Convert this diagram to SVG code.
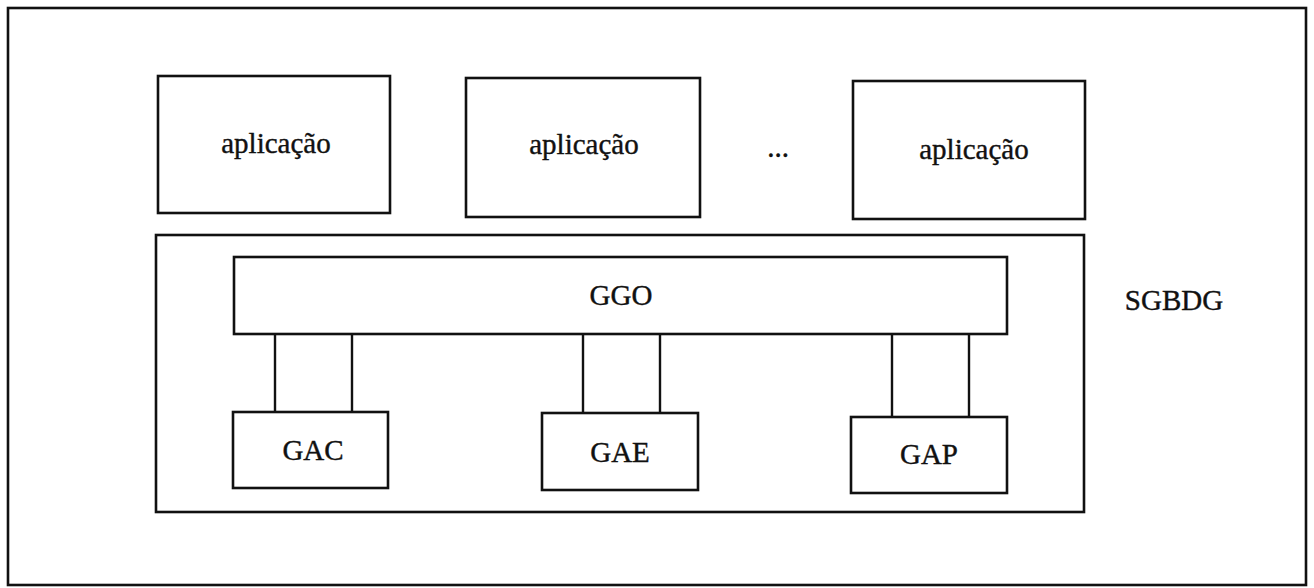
<svg xmlns="http://www.w3.org/2000/svg" width="1314" height="588" viewBox="0 0 1314 588">
<style>
rect{fill:#fff;stroke:#111;stroke-width:2.6}
.c line{stroke:#111;stroke-width:2.4}
text{font-family:"Liberation Serif","Times New Roman",serif;font-size:29px;fill:#111;stroke:#111;stroke-width:0.4;text-anchor:middle}
</style>
<rect x="0" y="0" width="1314" height="588" style="stroke:none"/>
<g id="frame"><rect x="8" y="8" width="1298" height="577"/></g>
<g id="app1"><rect x="158" y="76" width="232" height="137"/><text x="276" y="153">aplicação</text></g>
<g id="app2"><rect x="466" y="78" width="234" height="139"/><text x="584" y="154">aplicação</text></g>
<g id="dots"><text x="778" y="157">...</text></g>
<g id="app3"><rect x="853" y="81" width="232" height="138"/><text x="974" y="159">aplicação</text></g>
<g id="sgbdg"><rect x="156" y="235" width="928" height="277"/></g>
<g id="sgbdg-label"><text x="1174" y="310">SGBDG</text></g>
<g id="c" class="c">
<line x1="275" y1="331" x2="275" y2="412"/><line x1="352" y1="331" x2="352" y2="412"/>
<line x1="583" y1="333" x2="583" y2="413"/><line x1="660" y1="333" x2="660" y2="413"/>
<line x1="892" y1="335" x2="892" y2="417"/><line x1="969" y1="335" x2="969" y2="417"/>
</g>
<g id="ggo"><rect x="234" y="257" width="773" height="77"/><text x="621" y="305">GGO</text></g>
<g id="gac"><rect x="233" y="412" width="155" height="76"/><text x="313" y="460">GAC</text></g>
<g id="gae"><rect x="542" y="413" width="156" height="77"/><text x="620" y="462">GAE</text></g>
<g id="gap"><rect x="851" y="417" width="156" height="76"/><text x="929" y="464">GAP</text></g>
</svg>
